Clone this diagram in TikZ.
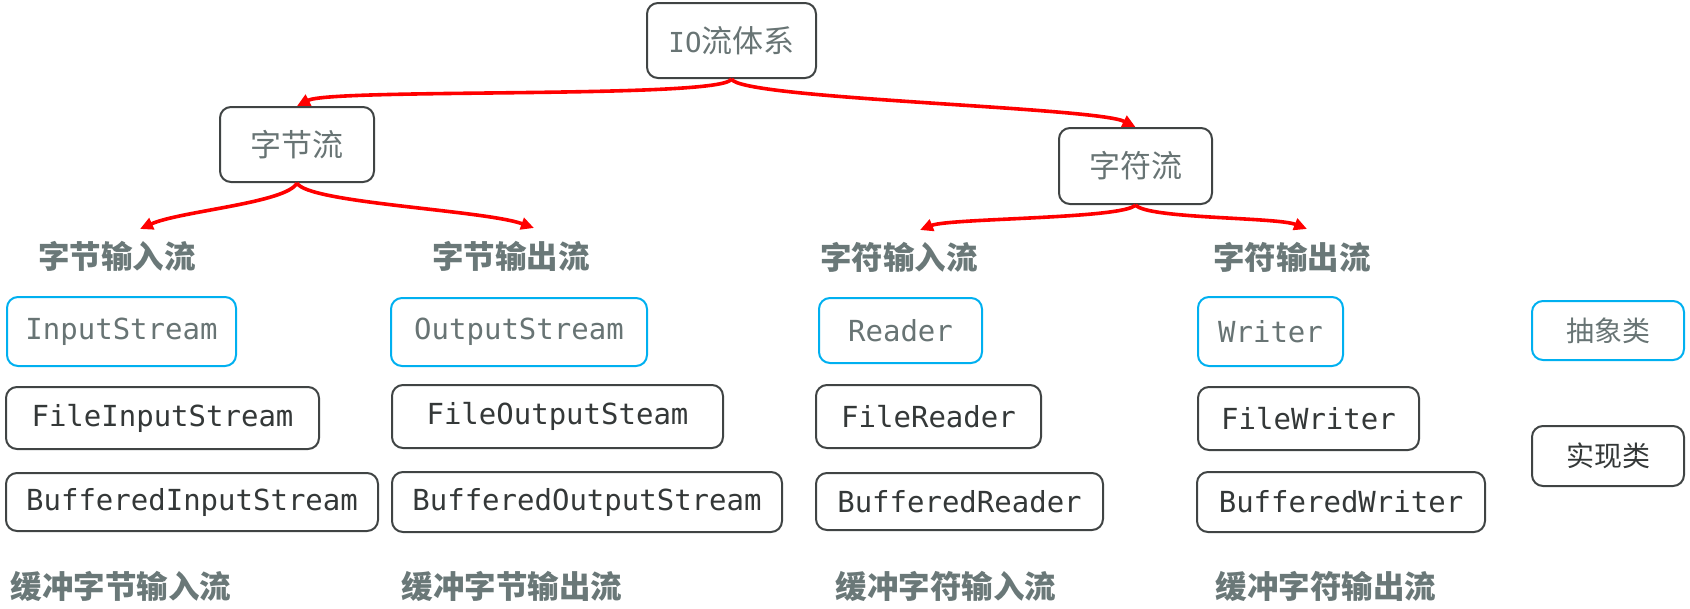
\documentclass[tikz,border=0pt]{standalone}
\usepackage{fontspec}
\setmainfont{Noto Sans CJK SC}
\setmonofont{DejaVu Sans Mono}
\usetikzlibrary{arrows.meta}
\definecolor{absblue}{RGB}{0,176,240}
\definecolor{boxdark}{RGB}{64,68,68}
\definecolor{txtgray}{RGB}{104,116,116}
\definecolor{txtdark}{RGB}{52,56,56}
\definecolor{lblgray}{RGB}{106,120,120}
\definecolor{arrred}{RGB}{255,0,0}
\begin{document}
\begin{tikzpicture}[x=1pt,y=-1pt]
\tikzset{
  box/.style={draw, rounded corners=11pt, line width=2pt, inner sep=0pt, align=center},
  absbox/.style={box, draw=absblue, text=txtgray},
  implbox/.style={box, draw=boxdark, text=txtdark},
  topbox/.style={box, draw=boxdark, text=txtgray, font=\fontsize{31pt}{36pt}\selectfont},
  code/.style={font=\fontsize{29pt}{34pt}\ttfamily},
  cjkbox/.style={font=\fontsize{28pt}{32pt}\selectfont},
  lbl/.style={text=lblgray, font=\fontsize{31.5pt}{36pt}\selectfont\bfseries, inner sep=0pt},
  flow/.style={draw=arrred, line width=3.6pt, -{Triangle[length=13pt,width=12pt]}}
}
\useasboundingbox (0,0) rectangle (1690,608);

% top level
\node[topbox, minimum width=169pt, minimum height=75pt] (io) at (731.5,40.5) {{\fontsize{27.5pt}{30pt}\ttfamily IO}流体系};
\node[topbox, minimum width=154pt, minimum height=75pt] (byte) at (297,144.5) {字节流};
\node[topbox, minimum width=153pt, minimum height=76pt] (char) at (1135.5,166) {字符流};

% category labels
\node[lbl] (l1) at (117,256) {字节输入流};
\node[lbl] (l2) at (511,256) {字节输出流};
\node[lbl] (l3) at (899,257) {字符输入流};
\node[lbl] (l4) at (1292,257) {字符输出流};
\coordinate (t1) at (140,229);
\coordinate (t2) at (534,228);
\coordinate (t3) at (920,230);
\coordinate (t4) at (1307,229);

% column 1
\node[absbox, code, minimum width=229pt, minimum height=69pt] (is) at (121.5,331.5) {InputStream};
\node[implbox, code, minimum width=313pt, minimum height=62pt] (fis) at (162.5,418) {FileInputStream};
\node[implbox, code, minimum width=372pt, minimum height=58pt] (bis) at (192,502) {BufferedInputStream};
% column 2
\node[absbox, code, minimum width=256pt, minimum height=68pt] (os) at (519,332) {OutputStream};
\node[implbox, code, minimum width=331pt, minimum height=63pt] (fos) at (557.5,416.5) {FileOutputSteam};
\node[implbox, code, minimum width=390pt, minimum height=60pt] (bos) at (587,502) {BufferedOutputStream};
% column 3
\node[absbox, code, minimum width=163pt, minimum height=65pt] (rd) at (900.5,330.5) {Reader};
\node[implbox, code, minimum width=225pt, minimum height=63pt] (frd) at (928.5,416.5) {FileReader};
\node[implbox, code, minimum width=287pt, minimum height=57pt] (brd) at (959.5,501.5) {BufferedReader};
% column 4
\node[absbox, code, minimum width=145pt, minimum height=69pt] (wr) at (1270.5,331.5) {Writer};
\node[implbox, code, minimum width=221pt, minimum height=63pt] (fwr) at (1308.5,418.5) {FileWriter};
\node[implbox, code, minimum width=288pt, minimum height=60pt] (bwr) at (1341,502) {BufferedWriter};
% legend
\node[absbox, cjkbox, minimum width=152pt, minimum height=59pt] (legabs) at (1608,330.5) {抽象类};
\node[implbox, cjkbox, minimum width=152pt, minimum height=60pt] (legimpl) at (1608,456) {实现类};

% bottom labels
\node[lbl] (b1) at (121,586) {缓冲字节输入流};
\node[lbl] (b2) at (512,586) {缓冲字节输出流};
\node[lbl] (b3) at (946,586) {缓冲字符输入流};
\node[lbl] (b4) at (1326,586) {缓冲字符输出流};

% connectors
\draw[flow] (io.south) .. controls +(-8,20) and +(35,-18) .. (byte.north);
\draw[flow] (io.south) .. controls +(8,20) and +(-40,-20) .. (char.north);
\draw[flow] (byte.south) .. controls +(-10,20) and +(40,-18) .. (t1);
\draw[flow] (byte.south) .. controls +(10,20) and +(-50,-18) .. (t2);
\draw[flow] (char.south) .. controls +(-12,14) and +(30,-12) .. (t3);
\draw[flow] (char.south) .. controls +(12,14) and +(-30,-12) .. (t4);
\end{tikzpicture}
\end{document}
